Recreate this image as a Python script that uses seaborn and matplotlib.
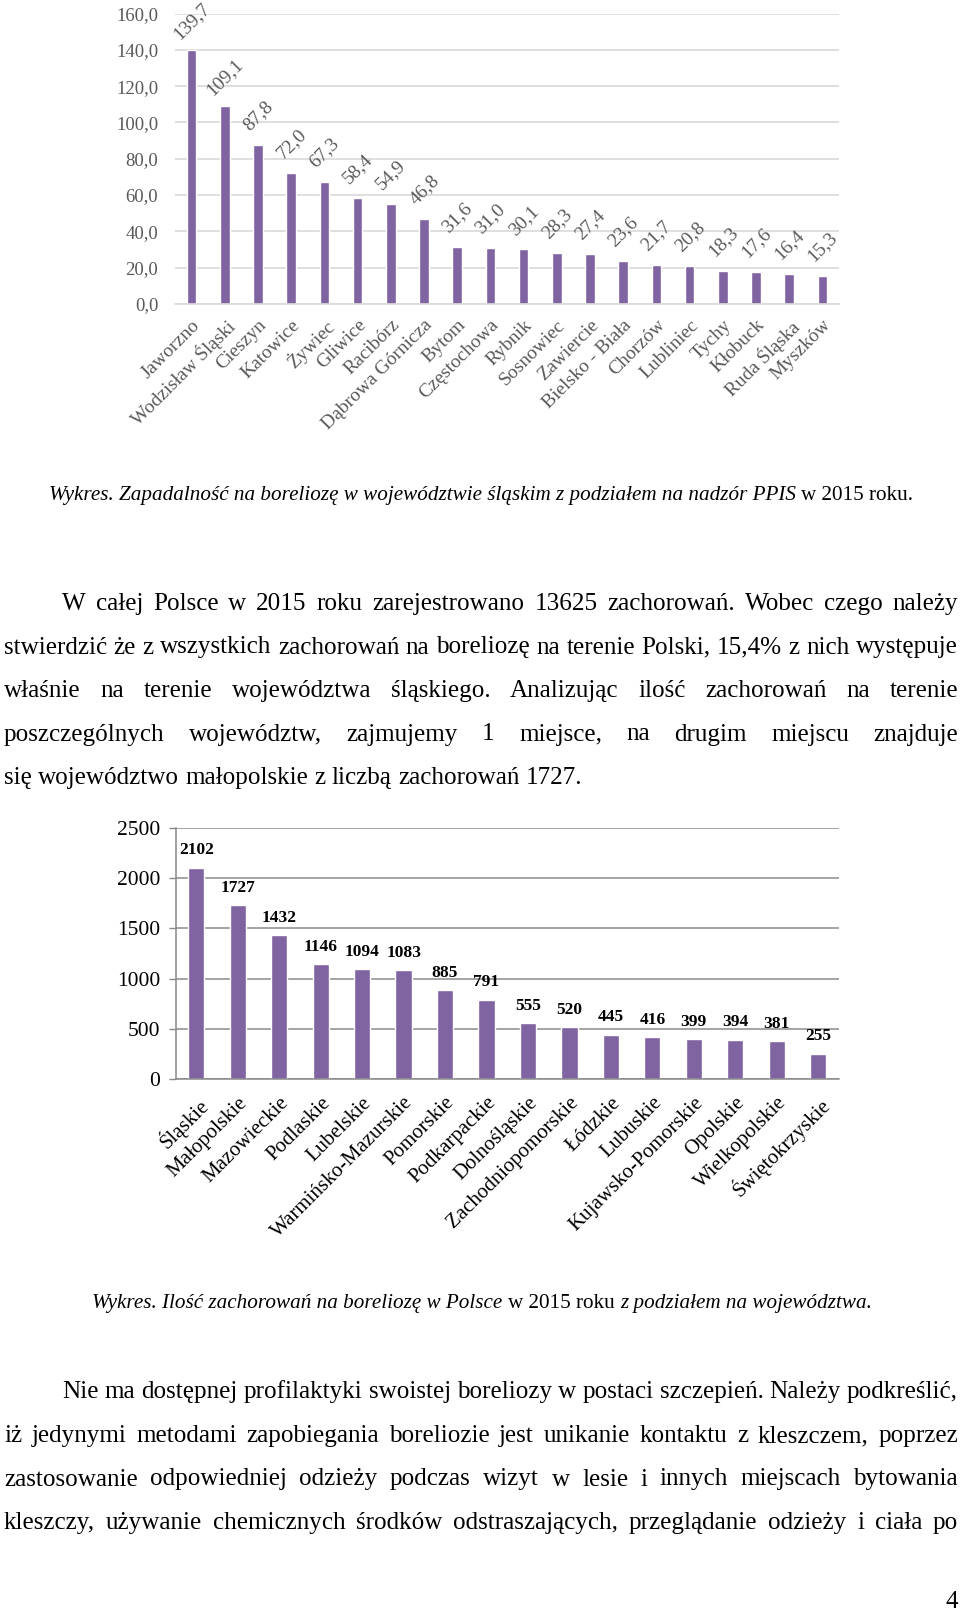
import numpy as np
import pandas as pd
import matplotlib
matplotlib.use("Agg")
import matplotlib.pyplot as plt
import seaborn as sns

# ---------------- data ----------------
cities = ["Jaworzno", "Wodzisław Śląski", "Cieszyn", "Katowice", "Żywiec", "Gliwice",
          "Racibórz", "Dąbrowa Górnicza", "Bytom", "Częstochowa", "Rybnik", "Sosnowiec",
          "Zawiercie", "Bielsko - Biała", "Chorzów", "Lubliniec", "Tychy", "Kłobuck",
          "Ruda Śląska", "Myszków"]
incidence = [139.7, 109.1, 87.8, 72.0, 67.3, 58.4, 54.9, 46.8, 31.6, 31.0, 30.1, 28.3,
             27.4, 23.6, 21.7, 20.8, 18.3, 17.6, 16.4, 15.3]
top_yticks = [0, 20, 40, 60, 80, 100, 120, 140, 160]

voivodeships = ["Śląskie", "Małopolskie", "Mazowieckie", "Podlaskie", "Lubelskie",
                "Warmińsko-Mazurskie", "Pomorskie", "Podkarpackie", "Dolnośląskie",
                "Zachodniopomorskie", "Łódzkie", "Lubuskie", "Kujawsko-Pomorskie",
                "Opolskie", "Wielkopolskie", "Świętokrzyskie"]
cases = [2102, 1727, 1432, 1146, 1094, 1083, 885, 791, 555, 520, 445, 416, 399, 394, 381, 255]
bottom_yticks = [0, 500, 1000, 1500, 2000, 2500]

caption1 = [("Wykres. Zapadalność na boreliozę w województwie śląskim z podziałem na nadzór PPIS", "italic"),
            ("w 2015 roku.", "normal")]
caption2 = [("Wykres. Ilość zachorowań na boreliozę w Polsce", "italic"),
            ("w 2015 roku", "normal"),
            ("z podziałem na województwa.", "italic")]

para1 = ["W całej Polsce w 2015 roku zarejestrowano 13625 zachorowań. Wobec czego należy",
         "stwierdzić że  z wszystkich zachorowań na boreliozę na terenie Polski, 15,4% z nich występuje",
         "właśnie na terenie województwa śląskiego. Analizując ilość zachorowań na terenie",
         "poszczególnych województw, zajmujemy 1 miejsce, na drugim miejscu znajduje",
         "się województwo małopolskie z liczbą zachorowań 1727."]
para2 = ["Nie ma dostępnej profilaktyki swoistej boreliozy w postaci szczepień. Należy podkreślić,",
         "iż jedynymi metodami zapobiegania boreliozie jest unikanie kontaktu z kleszczem, poprzez",
         "zastosowanie odpowiedniej odzieży podczas wizyt w lesie i innych miejscach bytowania",
         "kleszczy, używanie chemicznych środków odstraszających, przeglądanie odzieży i ciała po"]
page_number = "4"

# ---------------- style ----------------
sns.set_theme(style="white")
plt.rcParams["font.family"] = ["Liberation Serif", "DejaVu Serif"]

W, H = 960, 1612
fig = plt.figure(figsize=(W / 100, H / 100), dpi=100)
fig.patch.set_facecolor("white")
BAR = "#8064A2"
GRAY_TXT = "#595959"


def px_axes(x0, x1, ytop, ybot):
    return fig.add_axes([x0 / W, 1 - ybot / H, (x1 - x0) / W, (ybot - ytop) / H])


# ---------------- top chart ----------------
ax1 = px_axes(175, 839, 13.5, 304)
df1 = pd.DataFrame({"city": cities, "value": incidence})
sns.barplot(data=df1, x="city", y="value", color=BAR, saturation=1, width=0.29, ax=ax1)
ax1.set_ylim(0, 160)
ax1.set_xlim(-0.5, len(cities) - 0.5)
ax1.set_yticks(top_yticks)
ax1.set_yticklabels([f"{v:.1f}".replace(".", ",") for v in top_yticks], color=GRAY_TXT, fontsize=13.5)
ax1.set_xticks(range(len(cities)))
ax1.set_xticklabels(cities, rotation=45, ha="right", rotation_mode="anchor",
                    color=GRAY_TXT, fontsize=14)
ax1.tick_params(axis="both", length=0)
ax1.tick_params(axis="y", pad=12)
ax1.tick_params(axis="x", pad=9)
ax1.yaxis.grid(True, color="#D9D9D9", lw=1.2)
ax1.set_axisbelow(True)
for s in ["top", "right", "left"]:
    ax1.spines[s].set_visible(False)
ax1.spines["bottom"].set_color("#D9D9D9")
ax1.spines["bottom"].set_linewidth(1.2)
ax1.set_xlabel("")
ax1.set_ylabel("")
for i, v in enumerate(incidence):
    ax1.annotate(f"{v:.1f}".replace(".", ","), (i, v), xytext=(0, 21), textcoords="offset points",
                 rotation=45, ha="center", va="center", color=GRAY_TXT, fontsize=14)

# ---------------- bottom chart ----------------
ax2 = px_axes(175.5, 839, 827.5, 1079.4)
df2 = pd.DataFrame({"woj": voivodeships, "value": cases})
sns.barplot(data=df2, x="woj", y="value", color=BAR, saturation=1, width=0.39, ax=ax2)
ax2.set_ylim(0, 2500)
ax2.set_xlim(-0.5, len(voivodeships) - 0.5)
ax2.set_yticks(bottom_yticks)
ax2.set_yticklabels([str(v) for v in bottom_yticks], color="black", fontsize=15.5)
ax2.set_xticks(range(len(voivodeships)))
ax2.set_xticklabels(voivodeships, rotation=45, ha="right", rotation_mode="anchor",
                    color="black", fontsize=15)
ax2.set_xticks(np.arange(-0.5, len(voivodeships), 1), minor=True)
ax2.tick_params(axis="x", which="major", length=0, pad=10)
ax2.tick_params(axis="x", which="minor", length=5, color="#898989", width=1, direction="out")
ax2.tick_params(axis="y", length=5, color="#898989", width=1, direction="out", pad=6, left=True)
ax2.yaxis.grid(True, color="#8C8C8C", lw=1.1)
ax2.set_axisbelow(True)
for s in ["top", "right"]:
    ax2.spines[s].set_visible(False)
for s in ["left", "bottom"]:
    ax2.spines[s].set_color("#898989")
    ax2.spines[s].set_linewidth(1.1)
ax2.set_xlabel("")
ax2.set_ylabel("")
for i, v in enumerate(cases):
    ax2.annotate(str(v), (i, v), xytext=(0, 12.5), textcoords="offset points",
                 ha="center", va="center", color="black", fontsize=12.5, fontweight="bold")

# ---------------- text helpers ----------------
renderer = fig.canvas.get_renderer()


def text_width(s, **kw):
    t = fig.text(0, 0, s, **kw)
    w = t.get_window_extent(renderer).width
    t.remove()
    return w


def space_width(**kw):
    return text_width("n n", **kw) - text_width("nn", **kw)


def runs_width(runs, size):
    kw = dict(fontsize=size)
    return sum(text_width(s, style=st, **kw) for s, st in runs) + space_width(**kw) * (len(runs) - 1)


def draw_runs(runs, xc, yb, size):
    kw = dict(fontsize=size, color="black")
    sp = space_width(**kw)
    widths = [text_width(s, style=st, **kw) for s, st in runs]
    total = sum(widths) + sp * (len(runs) - 1)
    x = xc - total / 2
    for (s, st), w in zip(runs, widths):
        fig.text(x / W, 1 - yb / H, s, style=st, ha="left", va="baseline", **kw)
        x += w + sp


def draw_paragraph(lines, baselines, size, justify_last, indent=62, x0=4, x1=958):
    kw = dict(fontsize=size, color="black")
    sp = space_width(**kw)
    for k, (line, yb) in enumerate(zip(lines, baselines)):
        words = line.split()
        left = indent if k == 0 else x0
        ws = [text_width(w, **kw) for w in words]
        last = (k == len(lines) - 1) and not justify_last
        gap = sp if last else (x1 - left - sum(ws)) / (len(words) - 1)
        x = left
        for w, wd in zip(words, ws):
            fig.text(x / W, 1 - yb / H, w, ha="left", va="baseline", **kw)
            x += wd + gap


# fit body font so that the naturally set line matches the page width
base = 16.0
body_fs = base * 952 / text_width(" ".join(para1[1].split()), fontsize=base)
cap1_fs = 13.5 * 864 / runs_width(caption1, 13.5)
cap2_fs = 13.5 * 780 / runs_width(caption2, 13.5)

draw_runs(caption1, 481, 500, cap1_fs)
draw_paragraph(para1, [610, 653.5, 697, 740.5, 784], body_fs, justify_last=False)
draw_runs(caption2, 482, 1308, cap2_fs)
draw_paragraph(para2, [1398, 1442, 1485.5, 1529], body_fs, justify_last=True)
fig.text(958 / W, 1 - 1608 / H, page_number, ha="right", va="baseline", fontsize=body_fs, color="black")

fig.savefig("out.png", dpi=100, facecolor="white")
